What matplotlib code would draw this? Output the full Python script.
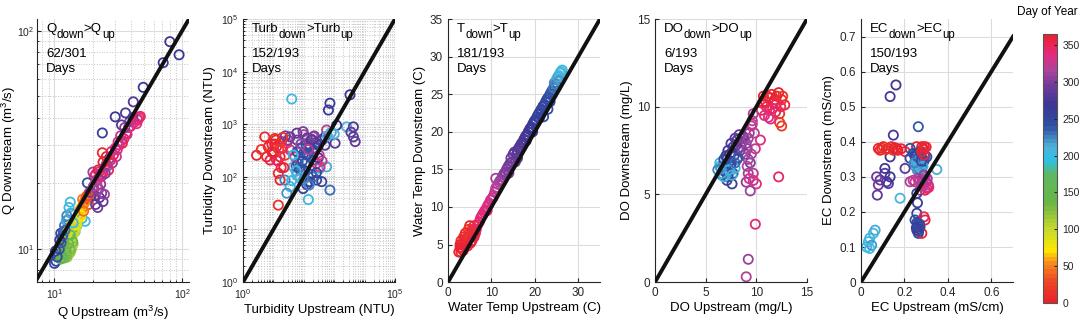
import matplotlib
matplotlib.use("Agg")
import matplotlib.pyplot as plt
from matplotlib.colors import LinearSegmentedColormap, Normalize
from matplotlib.cm import ScalarMappable
from matplotlib.ticker import LogLocator, NullFormatter, FixedLocator

# ---- Panel 1: discharge (m3/s)
q_up = [10.0, 10.3, 10.8, 11.0, 11.5, 11.2, 12.0, 12.4, 11.8, 13.0,
        12.5, 14.5, 15.0, 13.8, 13.3, 11.5, 12.0, 12.5, 13.0, 12.8,
        13.5, 12.2, 13.8, 14.2, 11.8, 12.6, 13.2, 14.0, 11.2, 12.9,
        13.6, 14.5, 12.3, 13.4, 14.8, 16.2, 16.8, 17.2, 17.6, 16.0,
        17.9, 16.5, 17.0, 15.2, 18.2, 18.8, 19.3, 19.8, 18.5, 20.0,
        23.7, 21.0, 21.8, 22.5, 23.4, 20.6, 24.0, 22.2, 23.0, 24.6,
        20.5, 21.0, 22.0, 20.0, 23.0, 24.0, 21.5, 25.5, 27.0, 28.4,
        30.0, 32.0, 35.0, 33.0, 38.0, 42.0, 45.0, 47.0, 30.5, 26.5,
        34.0, 37.0, 39.0, 41.0, 44.0, 18.1, 23.7, 29.9, 33.5, 41.4,
        49.5, 71.0, 80.0, 94.5, 36.0, 16.4, 17.4,
        11.6, 12.1, 12.7, 13.1, 13.7, 14.3, 12.4, 13.3, 13.9, 11.9,
        12.6, 13.1, 14.0, 14.6, 12.2, 13.5, 14.9, 12.9, 13.3, 11.4,
        15.4, 15.9, 16.3, 17.3, 16.1, 15.6, 16.6, 17.7, 18.3, 16.9,
        10.5, 10.9, 11.3, 11.6, 12.1, 10.2, 11.0, 12.8, 13.4, 14.0,
        19.0, 20.2, 21.2, 22.5, 23.5, 24.5, 25.0, 26.0, 27.5, 29.0,
        31.0, 33.0, 36.5, 39.5, 44.5, 46.0, 28.0, 31.5, 35.5, 24.0,
        22.0, 25.5]
q_down = [8.6, 8.8, 9.5, 10.3, 11.2, 11.8, 12.8, 13.5, 12.0, 15.5,
          14.2, 12.0, 12.8, 14.5, 16.4, 9.2, 9.5, 9.8, 10.2, 10.8,
          11.0, 10.5, 11.8, 12.5, 10.0, 9.2, 9.6, 10.5, 9.0, 11.5,
          12.2, 13.0, 11.2, 12.8, 13.6, 14.8, 15.8, 16.6, 17.0, 14.6,
          17.5, 15.4, 16.2, 13.5, 17.0, 18.2, 17.4, 18.0, 16.0, 19.0,
          27.6, 16.0, 15.5, 17.2, 18.0, 17.6, 16.5, 18.8, 19.8, 17.8,
          21.5, 22.0, 21.0, 22.5, 22.0, 22.5, 19.5, 24.5, 26.0, 24.8,
          29.0, 30.0, 32.0, 33.0, 36.0, 38.0, 39.0, 40.5, 26.5, 23.0,
          30.5, 33.5, 38.5, 40.0, 37.5, 20.1, 34.0, 40.3, 37.0, 47.2,
          55.0, 71.3, 89.0, 77.5, 42.0, 13.8, 13.4,
          9.6, 10.1, 10.4, 10.9, 11.4, 11.9, 9.4, 10.0, 10.8, 9.1,
          11.8, 12.3, 12.8, 12.4, 9.9, 9.9, 12.9, 10.6, 11.6, 9.4,
          14.3, 15.2, 15.5, 16.4, 14.2, 13.9, 16.9, 17.2, 17.6, 14.9,
          9.2, 10.0, 10.7, 11.5, 12.2, 9.8, 11.0, 13.6, 14.6, 13.2,
          18.2, 19.4, 20.6, 22.6, 21.6, 23.5, 22.2, 24.0, 25.5, 27.0,
          28.5, 31.0, 34.0, 36.5, 39.5, 40.0, 28.0, 31.0, 36.0, 25.0,
          23.0, 26.5]
q_day = [250, 255, 245, 240, 235, 250, 230, 215, 260, 205,
         225, 200, 195, 210, 205, 130, 140, 150, 120, 110,
         135, 145, 100, 95, 160, 125, 115, 105, 155, 165,
         170, 90, 150, 85, 80, 70, 65, 60, 55, 75,
         50, 40, 45, 72, 15, 10, 5, 20, 25, 0,
         8, 290, 295, 285, 300, 280, 290, 305, 298, 310,
         345, 340, 330, 310, 335, 350, 320, 325, 300, 305,
         340, 335, 345, 330, 340, 345, 335, 340, 320, 350,
         355, 325, 300, 290, 335, 240, 255, 270, 280, 285,
         265, 260, 270, 265, 275, 205, 200,
         128, 118, 112, 108, 102, 98, 132, 138, 142, 146,
         88, 92, 96, 100, 152, 124, 84, 158, 162, 168,
         68, 62, 58, 52, 74, 78, 48, 35, 30, 42,
         248, 242, 238, 236, 232, 252, 258, 220, 212, 202,
         300, 315, 325, 335, 340, 330, 300, 310, 345, 350,
         340, 335, 345, 340, 335, 345, 330, 325, 300, 5,
         355, 0]

# ---- Panel 2: turbidity (NTU)
turb_up = [2.8, 5.2, 11.2, 12.6, 6.8, 10, 16.6, 18.6, 14.5, 16.6,
           14.5, 27.5, 7.8, 24, 8.9, 14,
           40, 141, 35.5, 59, 85, 126, 339, 2570, 27.5, 46, 562, 24, 71,
           204, 110, 158, 339, 76, 263, 501, 724, 100, 178, 56,
           95, 158, 389, 1200, 646, 724, 3310, 4270, 126,
           4270, 4900, 3550, 35.5, 95, 59, 1070, 251,
           562, 35.5, 339, 51, 12.6, 204, 398, 100,
           80, 130, 220, 65, 150, 300, 90, 180,
           60, 80, 120, 150, 200, 90, 70, 110, 250, 300,
           180, 130, 60, 220, 400, 500, 320, 260, 140, 80,
           45, 55, 75, 40, 100, 150, 200, 260, 30, 25,
           20, 18, 12, 9, 6, 4, 20, 22, 11, 15,
           800, 1000, 600]
turb_down = [257, 575, 537, 372, 372, 282, 240, 468, 117, 87,
             29, 437, 209, 257, 417, 200,
             3020, 37, 65, 107, 437, 282, 145, 891, 49, 155, 155, 87, 224,
             209, 182, 372, 501, 135, 87, 575, 56, 282, 112, 158,
             60, 81, 81, 955, 1860, 2510, 3630, 891, 71,
             575, 468, 708, 575, 724, 676, 437, 447,
             776, 324, 155, 240, 209, 575, 200, 631,
             350, 260, 320, 180, 420, 230, 140, 520,
             300, 350, 400, 250, 300, 200, 150, 130, 350, 400,
             500, 550, 500, 600, 500, 400, 260, 180, 330, 420,
             260, 130, 95, 85, 90, 70, 100, 120, 500, 600,
             350, 150, 500, 300, 240, 330, 560, 150, 420, 330,
             700, 650, 600]
turb_day = [5, 10, 15, 0, 360, 355, 5, 20, 8, 3,
            12, 25, 358, 18, 0, 350,
            205, 200, 210, 205, 200, 215, 205, 210, 220, 200, 215, 225, 210,
            240, 245, 240, 235, 245, 250, 240, 230, 242, 248, 238,
            258, 262, 255, 265, 265, 268, 272, 275, 260,
            285, 290, 288, 295, 300, 290, 280, 285,
            320, 330, 335, 340, 345, 315, 325, 310,
            245, 250, 238, 235, 300, 260, 228, 295,
            240, 250, 245, 238, 242, 248, 235, 240, 252, 255,
            285, 290, 295, 300, 280, 285, 330, 340, 320, 310,
            205, 210, 215, 200, 220, 225, 230, 255, 300, 295,
            345, 350, 10, 5, 0, 12, 15, 2, 358, 22,
            215, 208, 210]

# ---- Panel 3: water temperature (C)
temp_up = [2.5, 3.0, 3.5, 3.0, 4.0, 4.5, 5.0, 5.5, 5.0, 4.0,
           3.5, 6.0, 6.5, 5.5, 4.5, 3.0, 6.0, 2.8, 4.2, 5.8,
           7.5, 8.0, 8.5, 9.0, 9.5, 10.0, 10.5, 9.0, 11.0, 11.5,
           12.0, 12.5, 11.0, 13.0, 13.5, 14.0, 14.5, 15.0, 15.5, 16.0,
           16.5, 17.0, 17.5, 18.0, 18.5, 19.0, 19.5, 20.0, 20.5, 21.0,
           21.5, 22.0, 22.5, 22.0, 23.0, 23.5, 24.0, 24.5, 24.5, 25.0,
           25.5, 26.0, 25.0, 24.0, 16.0, 14.0, 19.5, 23.0,
           2.8, 3.3, 3.8, 4.3, 4.8, 5.3, 5.8, 6.3, 3.6, 4.7,
           5.2, 6.8, 7.2, 7.8, 8.3, 8.8, 9.3, 9.8, 10.3, 10.8,
           11.3, 11.8, 12.3, 12.8, 13.3, 13.8, 14.3, 14.8, 15.3, 15.8,
           16.3, 16.8, 17.3, 17.8, 18.3, 18.8, 19.3, 19.8, 20.3, 20.8,
           21.3, 21.8, 22.3, 22.8, 23.3, 23.8, 24.3, 24.8, 25.3, 25.8,
           26.3, 25.6, 23.5, 21.0, 18.0]
temp_down = [4.0, 4.5, 5.0, 5.5, 5.0, 6.0, 6.5, 7.0, 7.5, 6.5,
             4.2, 6.0, 7.0, 5.5, 4.8, 4.0, 7.5, 5.0, 5.8, 6.2,
             8.5, 9.0, 9.5, 10.0, 10.5, 11.0, 11.5, 9.5, 12.5, 13.0,
             13.5, 14.0, 13.8, 14.5, 15.0, 15.5, 16.5, 17.0, 16.0, 17.5,
             18.0, 18.5, 19.0, 19.5, 20.0, 20.5, 21.0, 21.5, 22.0, 22.5,
             23.0, 23.5, 24.0, 22.0, 24.5, 25.0, 25.5, 26.0, 26.5, 27.0,
             27.5, 28.0, 26.0, 25.0, 16.5, 14.5, 20.0, 23.0,
             4.6, 4.9, 5.6, 5.3, 5.9, 6.3, 6.8, 6.5, 6.0, 7.0,
             5.2, 7.6, 8.0, 8.8, 9.3, 9.6, 10.3, 10.9, 11.2, 12.0,
             12.6, 13.3, 13.6, 14.3, 14.6, 15.3, 15.8, 16.0, 17.3, 17.0,
             17.8, 18.3, 18.6, 19.3, 19.6, 20.3, 20.6, 21.3, 21.6, 22.3,
             22.8, 23.3, 23.6, 24.3, 24.6, 25.3, 25.8, 26.3, 27.3, 27.8,
             28.2, 26.8, 24.0, 21.8, 18.8]
temp_day = [5, 10, 0, 15, 360, 355, 10, 20, 5, 0,
            362, 350, 345, 355, 358, 8, 12, 3, 352, 15,
            345, 340, 338, 335, 333, 330, 328, 340, 322, 318,
            315, 310, 312, 305, 300, 298, 295, 290, 292, 285,
            282, 280, 278, 275, 272, 268, 265, 262, 258, 255,
            252, 250, 248, 245, 245, 240, 235, 230, 225, 215,
            210, 205, 220, 238, 288, 300, 262, 242,
            2, 357, 6, 359, 14, 18, 350, 348, 9, 16,
            354, 343, 344, 341, 339, 337, 334, 331, 329, 325,
            320, 316, 313, 307, 302, 299, 296, 293, 289, 286,
            283, 281, 279, 276, 273, 270, 266, 263, 260, 256,
            253, 251, 249, 246, 243, 237, 232, 226, 212, 207,
            202, 218, 244, 256, 276]

# ---- Panel 4: dissolved oxygen (mg/L)
do_up = [10.7, 11.3, 12.0, 12.5, 12.8, 11.0, 10.5, 12.3, 12.3, 12.5,
         12.2, 11.7, 11.3, 12.0, 11.2,
         9.7, 9.5, 10.4, 9.9, 9.2, 9.2, 9.0, 10.0, 9.4, 9.9,
         9.2, 9.0, 9.4, 9.7, 9.3, 9.6,
         8.7, 8.1, 7.7, 8.4, 7.4, 8.9, 7.1, 8.1, 9.0, 8.0, 7.6,
         6.7, 7.4, 7.7, 7.1, 7.6, 6.4, 6.4, 6.9, 7.4, 7.9, 7.1, 6.6,
         10.9, 11.5, 11.8, 12.2, 12.6, 11.1, 10.6, 11.6, 12.4, 11.9,
         10.8, 11.4,
         7.2, 7.5, 7.9, 8.3, 8.6, 8.2, 7.8, 7.4, 7.0, 6.8,
         8.5, 8.8, 9.2, 9.1, 6.9, 7.2, 7.5, 7.0, 6.6, 6.8,
         7.3, 7.6, 6.5, 6.2, 7.9, 8.2,
         9.5, 9.8, 9.1, 9.7, 9.3, 9.6]
do_down = [10.6, 10.5, 10.6, 10.4, 10.1, 10.0, 9.8, 9.6, 9.1, 8.9,
           6.0, 10.2, 9.8, 10.2, 9.4,
           9.6, 8.9, 8.1, 7.6, 7.0, 6.2, 5.7, 5.6, 5.2, 3.3,
           1.3, 0.3, 6.8, 6.2, 8.5, 9.2,
           8.3, 8.1, 7.7, 7.5, 7.3, 7.3, 7.0, 7.0, 7.9, 7.8, 7.4,
           6.6, 6.6, 6.2, 5.8, 5.6, 6.8, 6.6, 6.5, 6.3, 6.5, 6.2, 6.1,
           10.3, 10.7, 10.4, 10.8, 10.6, 10.6, 10.2, 9.9, 10.0, 9.7,
           9.5, 9.3,
           7.5, 7.9, 8.2, 8.4, 8.0, 7.6, 7.2, 6.9, 7.2, 7.0,
           7.7, 8.2, 8.2, 7.6, 6.3, 6.0, 6.7, 6.6, 6.2, 6.0,
           6.4, 6.1, 6.5, 6.4, 6.8, 7.1,
           7.3, 8.5, 6.6, 5.8, 5.9, 9.0]
do_day = [5, 10, 0, 15, 8, 358, 355, 12, 20, 18,
          345, 350, 340, 345, 342,
          325, 320, 335, 330, 315, 310, 305, 335, 312, 338,
          310, 318, 300, 322, 305, 315,
          290, 285, 280, 295, 275, 300, 270, 288, 305, 282, 278,
          250, 245, 255, 248, 258, 205, 200, 210, 215, 205, 220, 230,
          3, 7, 11, 2, 16, 357, 353, 347, 343, 349,
          338, 336,
          272, 276, 283, 287, 292, 296, 268, 262, 265, 258,
          300, 303, 308, 312, 252, 248, 244, 240, 212, 208,
          203, 216, 222, 225, 232, 236,
          318, 322, 314, 326, 331, 328]

# ---- Panel 5: electrical conductivity (mS/cm)
ec_up = [0.026, 0.040, 0.057, 0.065, 0.034, 0.049, 0.040,
         0.075, 0.080, 0.088, 0.118, 0.110, 0.126, 0.072,
         0.110, 0.134, 0.134, 0.149, 0.134, 0.161,
         0.080, 0.103, 0.126, 0.140, 0.164, 0.203, 0.088, 0.149, 0.256, 0.280, 0.290,
         0.180, 0.349,
         0.226, 0.264, 0.226, 0.249, 0.272, 0.257, 0.280, 0.264, 0.272, 0.287,
         0.241, 0.303, 0.260, 0.250, 0.270, 0.255,
         0.226, 0.249, 0.272, 0.287, 0.303, 0.272, 0.310, 0.203, 0.295, 0.280,
         0.257, 0.260, 0.257, 0.264, 0.257, 0.272, 0.264, 0.249,
         0.295, 0.280, 0.290,
         0.262, 0.268, 0.275, 0.255, 0.265, 0.280, 0.290, 0.250, 0.272, 0.295,
         0.285, 0.260, 0.245, 0.278,
         0.240, 0.262, 0.285, 0.300, 0.312, 0.295, 0.280, 0.305, 0.290,
         0.262, 0.268, 0.258, 0.265, 0.270, 0.255,
         0.285, 0.292, 0.280, 0.300, 0.290,
         0.095, 0.115, 0.155, 0.170, 0.185]
ec_down = [0.100, 0.125, 0.139, 0.148, 0.115, 0.105, 0.096,
           0.248, 0.277, 0.291, 0.286, 0.310, 0.281, 0.300,
           0.324, 0.300, 0.357, 0.419, 0.529, 0.562,
           0.381, 0.386, 0.381, 0.386, 0.381, 0.372, 0.376, 0.376, 0.386, 0.386, 0.378,
           0.239, 0.321,
           0.381, 0.443, 0.353, 0.357, 0.367, 0.338, 0.329, 0.324, 0.338, 0.348,
           0.367, 0.357, 0.345, 0.330, 0.318, 0.360,
           0.286, 0.286, 0.291, 0.277, 0.267, 0.262, 0.277, 0.324, 0.300, 0.310,
           0.253, 0.226, 0.196, 0.167, 0.148, 0.158, 0.139, 0.177,
           0.177, 0.139, 0.186,
           0.335, 0.330, 0.325, 0.345, 0.355, 0.355, 0.345, 0.365, 0.372, 0.360,
           0.330, 0.318, 0.340, 0.345,
           0.290, 0.295, 0.290, 0.285, 0.270, 0.262, 0.275, 0.295, 0.305,
           0.160, 0.152, 0.170, 0.145, 0.165, 0.155,
           0.380, 0.386, 0.372, 0.385, 0.362,
           0.382, 0.378, 0.383, 0.376, 0.380]
ec_day = [205, 210, 200, 215, 205, 220, 200,
          290, 292, 288, 285, 280, 282, 295,
          270, 268, 272, 275, 278, 270,
          5, 10, 0, 15, 358, 355, 8, 12, 3, 360, 350,
          210, 215,
          245, 235, 248, 240, 238, 242, 230, 205, 210, 240,
          245, 250, 200, 215, 225, 260,
          315, 320, 330, 340, 345, 310, 325, 290, 335, 300,
          255, 258, 262, 250, 255, 248, 252, 245,
          355, 5, 350,
          205, 210, 200, 215, 235, 240, 245, 250, 255, 238,
          212, 220, 228, 242,
          325, 330, 320, 335, 340, 345, 315, 310, 305,
          250, 252, 248, 255, 245, 258,
          2, 358, 10, 6, 355,
          8, 14, 4, 2, 360]

day_ticks = [0, 50, 100, 150, 200, 250, 300, 350]

# day-of-year colour wheel
cmap = LinearSegmentedColormap.from_list(
    "doy",
    [(0.00, "#e8232b"), (0.08, "#ee4a25"), (0.15, "#f7941d"), (0.19, "#ffe600"),
     (0.27, "#c6d92f"), (0.37, "#6bb545"), (0.48, "#5cb862"), (0.53, "#2cc0ea"),
     (0.58, "#4fb2d9"), (0.66, "#2f4fa3"), (0.74, "#3c3794"), (0.80, "#65399a"),
     (0.87, "#aa449c"), (0.93, "#e42a80"), (1.00, "#ec2030")],
    N=64,
)
norm = Normalize(0, 365)

plt.rcParams["font.family"] = ["Liberation Sans", "DejaVu Sans"]
plt.rcParams["mathtext.fontset"] = "custom"
plt.rcParams["mathtext.rm"] = "Liberation Sans"
plt.rcParams["mathtext.it"] = "Liberation Sans:italic"
plt.rcParams["mathtext.bf"] = "Liberation Sans:bold"

FS = 9.5
SUB = 8.3
TICK_FS = 8.5


def style(ax, log=False):
    for side in ("top", "right"):
        ax.spines[side].set_visible(False)
    for side in ("left", "bottom"):
        ax.spines[side].set_color("#262626")
        ax.spines[side].set_linewidth(0.8)
    ax.tick_params(direction="in", length=3, labelsize=7.5 if log else TICK_FS,
                   colors="#262626")
    ax.tick_params(which="minor", direction="in", length=1.5)
    ax.grid(True, which="major", color="#dcdcdc", lw=0.8)
    if log:
        ax.grid(True, which="minor", color="#c4c4c4", lw=0.7, ls=":")
    ax.set_axisbelow(True)


def note(ax, name, count):
    # "X_down>X_up" built from pieces so the subscripts keep a large size
    t = ax.text(0.06, 0.95, name, transform=ax.transAxes, fontsize=FS,
                va="baseline")
    parts = [("down", SUB, -4.5), (">" + name, FS, 4.5), ("up", SUB, -4.5)]
    for s, size, dy in parts:
        t = ax.annotate(s, xy=(1, 0), xycoords=t, xytext=(0, dy),
                        textcoords="offset points", fontsize=size,
                        va="bottom", ha="left")
    ax.text(0.06, 0.855, count, transform=ax.transAxes, fontsize=FS, va="baseline")
    ax.text(0.06, 0.797, "Days", transform=ax.transAxes, fontsize=FS, va="baseline")


fig = plt.figure(figsize=(10.84, 3.28), dpi=100)
lefts = [37, 243, 448, 655, 861]
axes = [fig.add_axes([l / 1084, 0.140, 152 / 1084, 0.802]) for l in lefts]

panels = [
    (q_up, q_down, q_day, "Q", "62/301",
     r"Q Upstream (m$^3$/s)", r"Q Downstream (m$^3$/s)"),
    (turb_up, turb_down, turb_day, "Turb", "152/193",
     "Turbidity Upstream (NTU)", "Turbidity Downstream (NTU)"),
    (temp_up, temp_down, temp_day, "T", "181/193",
     "Water Temp Upstream (C)", "Water Temp Downstream (C)"),
    (do_up, do_down, do_day, "DO", "6/193",
     "DO Upstream (mg/L)", "DO Downstream (mg/L)"),
    (ec_up, ec_down, ec_day, "EC", "150/193",
     "EC Upstream (mS/cm)", "EC Downstream (mS/cm)"),
]

for ax, (up, down, day, name, count, xl, yl) in zip(axes, panels):
    ax.scatter(up, down, s=44, facecolors="none", edgecolors=cmap(norm(day)),
               linewidths=1.3, zorder=2)
    ax.set_xlabel(xl, fontsize=FS, labelpad=2)
    ax.set_ylabel(yl, fontsize=FS, labelpad=3)
    note(ax, name, count)

ax1, ax2, ax3, ax4, ax5 = axes
line_kw = dict(color="#111111", lw=2.8, zorder=3)

ax1.set_xscale("log")
ax1.set_yscale("log")
ax1.plot([1, 1000], [1, 1000], **line_kw)
ax1.set_xlim(7.3, 113)
ax1.set_ylim(7.06, 113)
ax1.xaxis.set_major_locator(FixedLocator([10, 100]))
ax1.yaxis.set_major_locator(FixedLocator([10, 100]))
for a in (ax1.xaxis, ax1.yaxis):
    a.set_minor_locator(LogLocator(base=10, subs=range(2, 10)))
    a.set_minor_formatter(NullFormatter())
style(ax1, log=True)
ax1.tick_params(axis="y", pad=2)
ax1.yaxis.set_label_coords(-0.125, 0.5)

ax2.set_xscale("log")
ax2.set_yscale("log")
ax2.plot([1, 1e5], [1, 1e5], **line_kw)
ax2.set_xlim(1, 1e5)
ax2.set_ylim(1, 1e5)
ax2.xaxis.set_major_locator(FixedLocator([1, 1e5]))
ax2.yaxis.set_major_locator(FixedLocator([1, 10, 100, 1e3, 1e4, 1e5]))
for a in (ax2.xaxis, ax2.yaxis):
    a.set_minor_locator(LogLocator(base=10, subs=range(1, 10), numticks=50))
    a.set_minor_formatter(NullFormatter())
style(ax2, log=True)

ax3.plot([0, 35], [0, 35], **line_kw)
ax3.set_xlim(0, 35)
ax3.set_ylim(0, 35)
ax3.set_xticks([0, 10, 20, 30])
ax3.set_yticks([0, 5, 10, 15, 20, 25, 30, 35])
style(ax3)

ax4.plot([0, 15], [0, 15], **line_kw)
ax4.set_xlim(0, 15)
ax4.set_ylim(0, 15)
ax4.set_xticks([0, 5, 10, 15])
ax4.set_yticks([0, 5, 10, 15])
style(ax4)

ax5.plot([0, 0.7], [0, 0.7], **line_kw)
ax5.set_xlim(0, 0.7)
ax5.set_ylim(0, 0.75)
ax5.set_xticks([0, 0.2, 0.4, 0.6])
ax5.set_xticklabels(["0", "0.2", "0.4", "0.6"])
ax5.set_yticks([0, 0.1, 0.2, 0.3, 0.4, 0.5, 0.6, 0.7])
ax5.set_yticklabels(["0", "0.1", "0.2", "0.3", "0.4", "0.5", "0.6", "0.7"])
style(ax5)

cax = fig.add_axes([1043 / 1084, 25 / 328, 14 / 1084, 269 / 328])
cb = fig.colorbar(ScalarMappable(norm=norm, cmap=cmap), cax=cax, ticks=day_ticks)
cb.outline.set_edgecolor("#555555")
cb.outline.set_linewidth(0.8)
cax.tick_params(direction="in", length=2.5, labelsize=7.5, colors="#262626", pad=4)
fig.text(1047 / 1084, 1 - 12 / 328, "Day of Year", fontsize=8.5,
         ha="center", va="center")

fig.savefig("out.png", dpi=100)
